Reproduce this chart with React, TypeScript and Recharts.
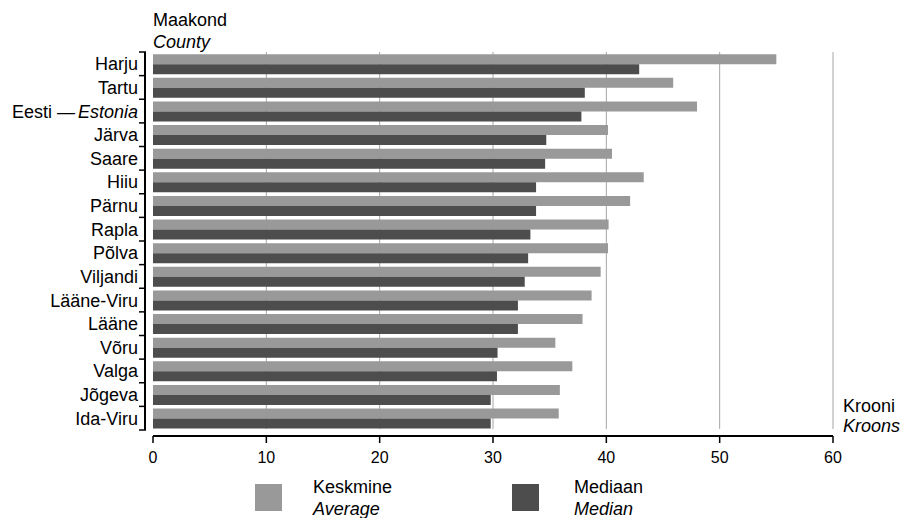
import React from 'react';
import { BarChart, Bar, XAxis, YAxis, CartesianGrid } from 'recharts';

const counties = ['Harju', 'Tartu', 'Eesti — Estonia', 'Järva', 'Saare', 'Hiiu', 'Pärnu', 'Rapla', 'Põlva', 'Viljandi', 'Lääne-Viru', 'Lääne', 'Võru', 'Valga', 'Jõgeva', 'Ida-Viru'];
const averageValues = [55.0, 45.9, 48.0, 40.15, 40.5, 43.3, 42.1, 40.2, 40.15, 39.5, 38.7, 37.9, 35.5, 37.0, 35.9, 35.8];
const medianValues = [42.9, 38.1, 37.8, 34.7, 34.6, 33.8, 33.8, 33.3, 33.1, 32.8, 32.2, 32.2, 30.4, 30.35, 29.8, 29.8];
const xTicks = [0, 10, 20, 30, 40, 50, 60];
const gridValues = [10, 20, 30, 40, 50, 60];

const seriesInfo = [
  { key: 'avg', color: '#999999', et: 'Keskmine', en: 'Average' },
  { key: 'median', color: '#4d4d4d', et: 'Mediaan', en: 'Median' },
];

const data = counties.map((name, i) => ({ name, avg: averageValues[i], median: medianValues[i] }));

const W = 902;
const H = 518;
const PLOT_TOP = 52;
const PLOT_BOTTOM = 436;
const PAD_BOTTOM = 6;
const BAND = (PLOT_BOTTOM - PLOT_TOP - PAD_BOTTOM) / counties.length;
const FONT = '"Liberation Sans", Arial, sans-serif';

const YTick = (props: any) => {
  const { x, y, payload, index } = props;
  const label: string = payload.value;
  const axisX = x - 8;
  const top = y - BAND / 2;
  const bottom = y + BAND / 2;
  const isLast = index === counties.length - 1;
  let content: React.ReactNode = label;
  if (label.includes('—')) {
    const [a, b] = label.split('—');
    content = (
      <>
        <tspan>{a.trim() + ' —'}</tspan>
        <tspan dx={3} fontStyle="italic">{b.trim()}</tspan>
      </>
    );
  }
  return (
    <g>
      <line x1={axisX} x2={axisX} y1={top} y2={bottom} stroke="#000" strokeWidth={2} />
      <line x1={axisX - 6} x2={axisX + 1} y1={top} y2={top} stroke="#000" strokeWidth={1.5} />
      {isLast && <line x1={axisX - 6} x2={axisX + 1} y1={bottom} y2={bottom} stroke="#000" strokeWidth={1.5} />}
      <text x={x - 15} y={y} dy={6.5} textAnchor="end" fontSize={18} fill="#000" fontFamily={FONT}>
        {content}
      </text>
    </g>
  );
};

const GridLine = (props: any) => {
  const { x1, x2, y1, y2 } = props;
  return <line x1={x1} x2={x2} y1={y1} y2={y2 - 7} stroke="#a6a6a6" strokeWidth={1} />;
};

export default function App() {
  return (
    <div style={{ position: 'fixed', left: 0, top: 0, width: W, height: H, overflow: 'hidden', background: '#fff', fontFamily: FONT, color: '#000' }}>
      <BarChart
        width={W}
        height={H}
        data={data}
        layout="vertical"
        margin={{ top: PLOT_TOP, right: 69, left: 0, bottom: 42 }}
        barCategoryGap={2.2}
        barGap={0}
      >
        <CartesianGrid horizontal={false} vertical={GridLine as any} verticalValues={gridValues} />
        <XAxis
          type="number"
          domain={[0, 60]}
          ticks={xTicks}
          height={40}
          axisLine={{ stroke: '#000', strokeWidth: 2 }}
          tickLine={{ stroke: '#000', strokeWidth: 1.5 }}
          tickSize={7}
          tickMargin={9}
          tick={{ fontSize: 16, fill: '#000', fontFamily: FONT }}
          interval={0}
        />
        <YAxis
          type="category"
          dataKey="name"
          width={153}
          axisLine={false}
          tickLine={false}
          tickSize={0}
          tickMargin={0}
          interval={0}
          padding={{ top: 0, bottom: PAD_BOTTOM }}
          tick={<YTick />}
        />
        {seriesInfo.map((s) => (
          <Bar key={s.key} dataKey={s.key} fill={s.color} isAnimationActive={false} />
        ))}
      </BarChart>

      <div style={{ position: 'absolute', left: 153, top: 9, fontSize: 18, lineHeight: '22px', whiteSpace: 'nowrap' }}>
        <div>Maakond</div>
        <div style={{ fontStyle: 'italic' }}>County</div>
      </div>

      <div style={{ position: 'absolute', left: 843, top: 395.5, fontSize: 18, lineHeight: '20px', whiteSpace: 'nowrap' }}>
        <div>Krooni</div>
        <div style={{ fontStyle: 'italic' }}>Kroons</div>
      </div>

      {seriesInfo.map((s, i) => (
        <React.Fragment key={s.key}>
          <div style={{ position: 'absolute', left: i === 0 ? 255 : 512, top: 484, width: 27, height: 27, background: s.color }} />
          <div style={{ position: 'absolute', left: i === 0 ? 313 : 574, top: 476, fontSize: 18, lineHeight: '22px', whiteSpace: 'nowrap' }}>
            <div>{s.et}</div>
            <div style={{ fontStyle: 'italic' }}>{s.en}</div>
          </div>
        </React.Fragment>
      ))}
    </div>
  );
}
